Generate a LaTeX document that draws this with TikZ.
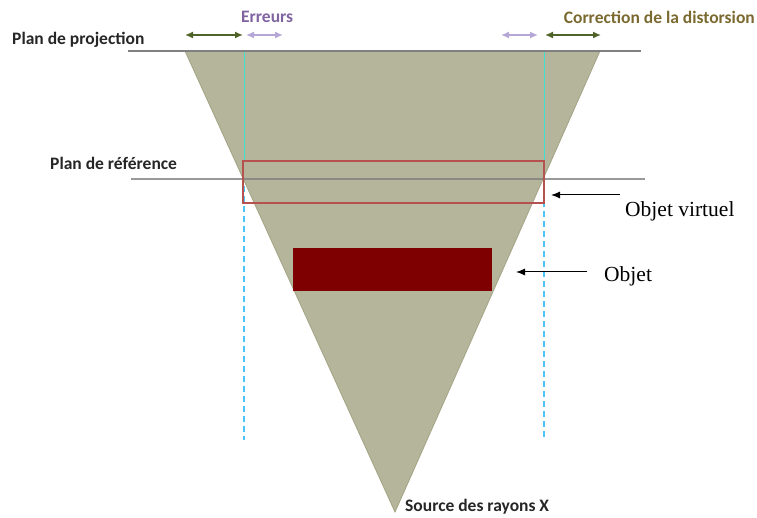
\documentclass[tikz,border=0pt]{standalone}
\usepackage{fontspec}
\setmainfont{Liberation Serif}
\newfontfamily\lblfont{Carlito}
\usetikzlibrary{arrows.meta}
\definecolor{conefill}{HTML}{B5B59B}
\definecolor{coneedge}{HTML}{A3A384}
\definecolor{planegray}{HTML}{808080}
\definecolor{objred}{HTML}{7F0000}
\definecolor{virtred}{HTML}{B5524F}
\definecolor{darkgreen}{HTML}{4F6228}
\definecolor{lilac}{HTML}{B4A7D6}
\definecolor{errpurple}{HTML}{8064A2}
\definecolor{corrolive}{HTML}{7A6A30}
\definecolor{cyanline}{HTML}{40E0D0}
\definecolor{dashblue}{HTML}{4FC3F7}
\tikzset{
  sanslbl/.style={inner sep=0pt, font=\lblfont\bfseries\fontsize{17.5}{20}\selectfont, text=black!85},
  seriflbl/.style={inner sep=0pt, font=\fontsize{21.5}{24}\selectfont, text=black},
  plane/.style={draw=planegray, line width=1.8pt},
  greenarrow/.style={draw=darkgreen, line width=1.5pt, {Latex[length=8pt,width=7pt]}-{Latex[length=8pt,width=7pt]}},
  lilacarrow/.style={draw=lilac, line width=1.5pt, {Latex[length=8pt,width=7pt]}-{Latex[length=8pt,width=7pt]}},
  pointer/.style={draw=black, line width=1pt, -{Latex[length=9pt,width=7pt]}},
  guideline/.style={draw=cyanline, line width=1pt},
  dashguide/.style={draw=dashblue, line width=1.3pt, dash pattern=on 6pt off 4pt},
}
\begin{document}
\begin{tikzpicture}[x=1pt,y=-1pt]
\useasboundingbox (0,0) rectangle (757,518);
% cone
\coordinate (tl) at (185,51);
\coordinate (tr) at (600,51);
\coordinate (src) at (395,512);
\fill[conefill, draw=coneedge, line width=0.8pt] (tl) -- (tr) -- (src) -- cycle;
% guide lines
\coordinate (lgtop) at (244,51);
\coordinate (lgmid) at (244,161);
\coordinate (lgdash) at (244,186);
\coordinate (lgbot) at (244,440);
\coordinate (rgtop) at (544,51);
\coordinate (rgmid) at (544,161);
\coordinate (rgdash) at (544,181);
\coordinate (rgbot) at (544,440);
\draw[guideline] (lgtop) -- (lgmid);
\draw[guideline] (rgtop) -- (rgmid);
\draw[dashguide] (lgdash) -- (lgbot);
\draw[dashguide] (rgdash) -- (rgbot);
% planes
\coordinate (pp1) at (128,51);
\coordinate (pp2) at (641,51);
\coordinate (pr1) at (131,179);
\coordinate (pr2) at (645,179);
\draw[plane] (pp1) -- (pp2);
\draw[plane, draw opacity=0.8] (pr1) -- (pr2);
% virtual object
\node[draw=virtred, line width=1.2pt, minimum width=301pt, minimum height=42pt, inner sep=0pt] (virt) at (393.5,182) {};
% object
\node[fill=objred, minimum width=199pt, minimum height=43pt, inner sep=0pt] (obj) at (392.5,269.5) {};
% top arrows
\coordinate (ga1) at (185,35); \coordinate (ga2) at (243,35);
\coordinate (la1) at (246,35); \coordinate (la2) at (283,35);
\coordinate (la3) at (501,35); \coordinate (la4) at (538,35);
\coordinate (ga3) at (545,35); \coordinate (ga4) at (601,35);
\draw[greenarrow] (ga1) -- (ga2);
\draw[lilacarrow] (la1) -- (la2);
\draw[lilacarrow] (la3) -- (la4);
\draw[greenarrow] (ga3) -- (ga4);
% labels
\node[sanslbl, anchor=west] (lproj) at (12,40) {Plan de projection};
\node[sanslbl, anchor=west] (lref) at (50,163) {Plan de référence};
\node[sanslbl, text=errpurple, anchor=west] (lerr) at (241,17) {Erreurs};
\node[sanslbl, text=corrolive, anchor=east] (lcorr) at (755,17) {Correction de la distorsion};
\node[sanslbl, anchor=west] (lsrc) at (405,507) {Source des rayons X};
\node[seriflbl, anchor=west] (lvirt) at (625,211) {Objet virtuel};
\node[seriflbl, anchor=west] (lobj) at (604,276) {Objet};
% pointers
\coordinate (pv1) at (620,195); \coordinate (pv2) at (551,195);
\coordinate (po1) at (587,272); \coordinate (po2) at (516,272);
\draw[pointer] (pv1) -- (pv2);
\draw[pointer] (po1) -- (po2);
\end{tikzpicture}
\end{document}
